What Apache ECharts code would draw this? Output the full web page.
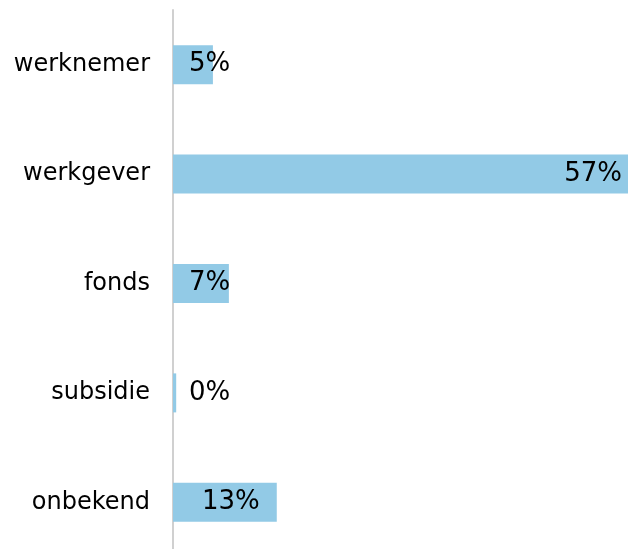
<!DOCTYPE html>
<html>
<head>
<meta charset="utf-8">
<script src="https://cdn.jsdelivr.net/npm/echarts@6/dist/echarts.min.js"></script>
<style>
html, body { margin: 0; padding: 0; background: #fff; }
#chart { width: 628px; height: 549px; }
</style>
</head>
<body>
<div id="chart"></div>
<script>
// Categories, top to bottom
var categories = ['werknemer', 'werkgever', 'fonds', 'subsidie', 'onbekend'];
// Share per category (percent)
var shares = [5, 57, 7, 0.4, 13];
// Label text per category
var labels = ['5%', '57%', '7%', '0%', '13%'];

var myChart = echarts.init(document.getElementById('chart'));

var seriesData = shares.map(function (v, i) {
	var lbl;
	if (v >= 30) {
		lbl = { position: 'insideRight', distance: 6 };
	} else if (v >= 10) {
		lbl = { position: 'insideRight', distance: 17 };
	} else {
		lbl = { position: 'insideLeft', distance: 16 };
	}
	return { value: v, label: lbl };
});

var option = {
	animation: false,
	grid: {
		left: 173, right: 0, top: 10, height: 547,
		containLabel: false,
		outerBoundsMode: 'none'
	},
	xAxis: {
		type: 'value',
		min: 0,
		max: 57,
		show: false
	},
	yAxis: {
		type: 'category',
		data: categories,
		inverse: true,
		axisLine: { show: true, lineStyle: { color: '#d0d0d0', width: 2 } },
		axisTick: { show: false },
		axisLabel: {
			margin: 23,
			fontFamily: 'DejaVu Sans',
			fontSize: 24,
			color: '#000'
		}
	},
	series: [
		{
			type: 'bar',
			data: seriesData,
			barWidth: 39,
			itemStyle: { color: '#92cae6' },
			label: {
				show: true,
				fontFamily: 'DejaVu Sans',
				fontSize: 26,
				color: '#000',
				formatter: function (p) { return labels[p.dataIndex]; }
			}
		}
	]
};

myChart.setOption(option);
</script>
</body>
</html>
